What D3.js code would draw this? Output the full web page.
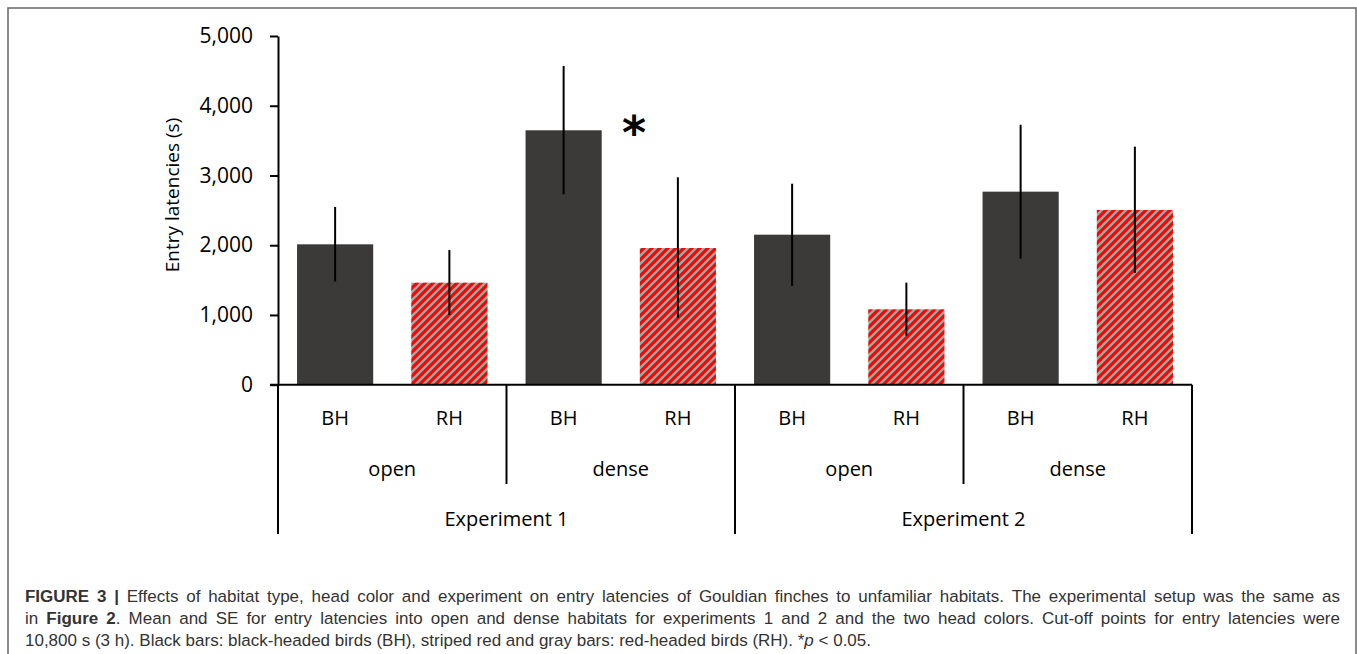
<!DOCTYPE html>
<html>
<head>
<meta charset="utf-8">
<script src="https://cdn.jsdelivr.net/npm/d3@7"></script>
<style>
  html, body { margin: 0; padding: 0; background: #fff; }
  svg { display: block; }
</style>
</head>
<body>
<svg id="chart" width="1357" height="654"></svg>
<script>
// ---------- data ----------
const experiments = ["Experiment 1", "Experiment 2"];
const habitats = ["open", "dense"];
const headColors = ["BH", "RH"];
const categories = [
  "E1-open-BH", "E1-open-RH", "E1-dense-BH", "E1-dense-RH",
  "E2-open-BH", "E2-open-RH", "E2-dense-BH", "E2-dense-RH"
];
const means    = [2013, 1463, 3648, 1960, 2151, 1081, 2768, 2505];
const errLow   = [1477,  999, 2730,  961, 1415,  703, 1807, 1602];
const errHigh  = [2548, 1931, 4570, 2974, 2882, 1463, 3728, 3413];
const yTicks   = [0, 1000, 2000, 3000, 4000, 5000];
const significance = [{ category: "E1-dense-BH", offset: 0.85, value: 3674, label: "*" }];

const captionLines = [
  [{t: "FIGURE 3 |", b: true}, {t: " Effects of habitat type, head color and experiment on entry latencies of Gouldian finches to unfamiliar habitats. The experimental setup was the same as"}],
  [{t: "in "}, {t: "Figure 2", b: true}, {t: ". Mean and SE for entry latencies into open and dense habitats for experiments 1 and 2 and the two head colors. Cut-off points for entry latencies were"}],
  [{t: "10,800 s (3 h). Black bars: black-headed birds (BH), striped red and gray bars: red-headed birds (RH). *"}, {t: "p", i: true}, {t: " < 0.05."}]
];

// ---------- layout ----------
const svg = d3.select("#chart");
const plotLeft = 278, plotRight = 1192, plotTop = 36, plotBottom = 384.7;
const labelFont = "'Open Sans', 'Noto Sans', sans-serif";

// frame
svg.append("path")
  .attr("d", "M8,660 L8,8 L1356,8 L1356,660")
  .attr("fill", "none").attr("stroke", "#666").attr("stroke-width", 1.5);

// pattern
const defs = svg.append("defs");
const pat = defs.append("pattern")
  .attr("id", "stripes").attr("patternUnits", "userSpaceOnUse")
  .attr("width", 8).attr("height", 8);
pat.append("rect").attr("width", 8).attr("height", 8).attr("fill", "#ff0000");
pat.append("path")
  .attr("d", "M-2,2 L2,-2 M0,8 L8,0 M6,10 L10,6")
  .attr("stroke", "#a5a5a5").attr("stroke-width", 2.5);

const x = d3.scaleBand().domain(categories).range([plotLeft, plotRight])
  .paddingInner(1/3).paddingOuter(1/6);
const y = d3.scaleLinear().domain([0, 5000]).range([plotBottom, plotTop]);

// bars
svg.append("g").selectAll("rect")
  .data(categories)
  .join("rect")
  .attr("x", d => x(d))
  .attr("width", x.bandwidth())
  .attr("y", (d, i) => y(means[i]))
  .attr("height", (d, i) => y(0) - y(means[i]))
  .attr("fill", (d, i) => i % 2 === 0 ? "#3b3a38" : "url(#stripes)");

// error bars
svg.append("g").selectAll("line")
  .data(categories)
  .join("line")
  .attr("x1", d => x(d) + x.bandwidth() / 2)
  .attr("x2", d => x(d) + x.bandwidth() / 2)
  .attr("y1", (d, i) => y(errLow[i]))
  .attr("y2", (d, i) => y(errHigh[i]))
  .attr("stroke", "#000").attr("stroke-width", 2);

// y axis
const yAxis = svg.append("g")
  .attr("transform", `translate(${plotLeft},0)`)
  .call(d3.axisLeft(y).tickValues(yTicks).tickFormat(d3.format(",")).tickSize(8).tickPadding(17).tickSizeOuter(0));
yAxis.select(".domain").attr("stroke", "#000").attr("stroke-width", 2);
yAxis.selectAll(".tick line").attr("stroke", "#000").attr("stroke-width", 2);
yAxis.selectAll(".tick text")
  .attr("font-family", labelFont).attr("font-size", 21).attr("fill", "#000");

// baseline
svg.append("line")
  .attr("x1", plotLeft - 8).attr("x2", plotRight)
  .attr("y1", y(0)).attr("y2", y(0))
  .attr("stroke", "#000").attr("stroke-width", 2);

// y label
svg.append("text")
  .attr("transform", `translate(179,195) rotate(-90)`)
  .attr("text-anchor", "middle")
  .attr("font-family", labelFont).attr("font-size", 19).attr("fill", "#000")
  .text("Entry latencies (s)");

// multi-level category axis
const step = x.step();
const groupBottomShort = 484, groupBottomLong = 534;
const sepPositions = d3.range(0, categories.length + 1, 2).map(i => plotLeft + i * step);
svg.append("g").selectAll("line")
  .data(sepPositions)
  .join("line")
  .attr("x1", d => d).attr("x2", d => d)
  .attr("y1", y(0))
  .attr("y2", (d, i) => i % 2 === 0 ? groupBottomLong : groupBottomShort)
  .attr("stroke", "#000").attr("stroke-width", 2);

// head color labels
svg.append("g").selectAll("text")
  .data(categories)
  .join("text")
  .attr("x", d => x(d) + x.bandwidth() / 2)
  .attr("y", 425)
  .attr("text-anchor", "middle")
  .attr("font-family", labelFont).attr("font-size", 20).attr("fill", "#000")
  .text((d, i) => headColors[i % 2]);

// habitat labels
const habitatGroups = d3.range(4).map(g => ({ label: habitats[g % 2], cx: plotLeft + (g * 2 + 1) * step }));
svg.append("g").selectAll("text")
  .data(habitatGroups)
  .join("text")
  .attr("x", d => d.cx).attr("y", 476)
  .attr("text-anchor", "middle")
  .attr("font-family", labelFont).attr("font-size", 20).attr("fill", "#000")
  .text(d => d.label);

// experiment labels
svg.append("g").selectAll("text")
  .data(experiments)
  .join("text")
  .attr("x", (d, i) => plotLeft + (i * 4 + 2) * step).attr("y", 526)
  .attr("text-anchor", "middle")
  .attr("font-family", labelFont).attr("font-size", 20).attr("fill", "#000")
  .text(d => d);

// significance marker
const starSize = 46;
svg.append("g").selectAll("text")
  .data(significance)
  .join("text")
  .attr("x", d => x(d.category) + x.bandwidth() + d.offset * (step - x.bandwidth()))
  .attr("y", d => y(d.value) + 0.44 * starSize)
  .attr("text-anchor", "middle")
  .attr("font-family", "'DejaVu Sans', sans-serif").attr("font-weight", "bold")
  .attr("font-size", starSize).attr("fill", "#000")
  .text(d => d.label);

// ---------- caption (justified) ----------
const capFont = "'Liberation Sans', Arial, Helvetica, sans-serif";
const capSize = 17;
const capX0 = 25, capX1 = 1340, lastLineEnd = 871;
const capBaselines = [602, 624, 646];
const capG = svg.append("g").attr("font-family", capFont).attr("font-size", capSize).attr("fill", "#333");

function tokenize(runs) {
  const words = [[]];
  runs.forEach(r => {
    r.t.split(" ").forEach((p, i) => {
      if (i > 0) words.push([]);
      if (p) words[words.length - 1].push(r.b || r.i ? {t: p, b: r.b, i: r.i} : {t: p});
    });
  });
  return words.filter(w => w.length);
}
const spaceProbe = capG.append("text").text("a a");
const aProbe = capG.append("text").text("aa");
const spaceW = spaceProbe.node().getComputedTextLength() - aProbe.node().getComputedTextLength();
spaceProbe.remove(); aProbe.remove();

const lineData = captionLines.map((runs, li) => {
  const words = tokenize(runs);
  const nodes = words.map(w => {
    const t = capG.append("text");
    w.forEach(p => {
      t.append("tspan")
        .attr("font-weight", p.b ? "bold" : null)
        .attr("font-style", p.i ? "italic" : null)
        .text(p.t);
    });
    return t;
  });
  const widths = nodes.map(n => n.node().getComputedTextLength());
  return { nodes, widths };
});
// horizontal factor so the last (unjustified) line ends where it does in the figure
const last = lineData[lineData.length - 1];
const lastNatural = d3.sum(last.widths) + spaceW * (last.widths.length - 1);
const sx = (lastLineEnd - capX0) / lastNatural;

lineData.forEach((ld, li) => {
  const total = d3.sum(ld.widths) * sx;
  const justify = li < lineData.length - 1;
  const gap = justify ? (capX1 - capX0 - total) / (ld.widths.length - 1) : spaceW * sx;
  let cx = capX0;
  ld.nodes.forEach((n, i) => {
    n.attr("transform", `translate(${cx},${capBaselines[li]}) scale(${sx},1)`);
    cx += ld.widths[i] * sx + gap;
  });
});
</script>
</body>
</html>
